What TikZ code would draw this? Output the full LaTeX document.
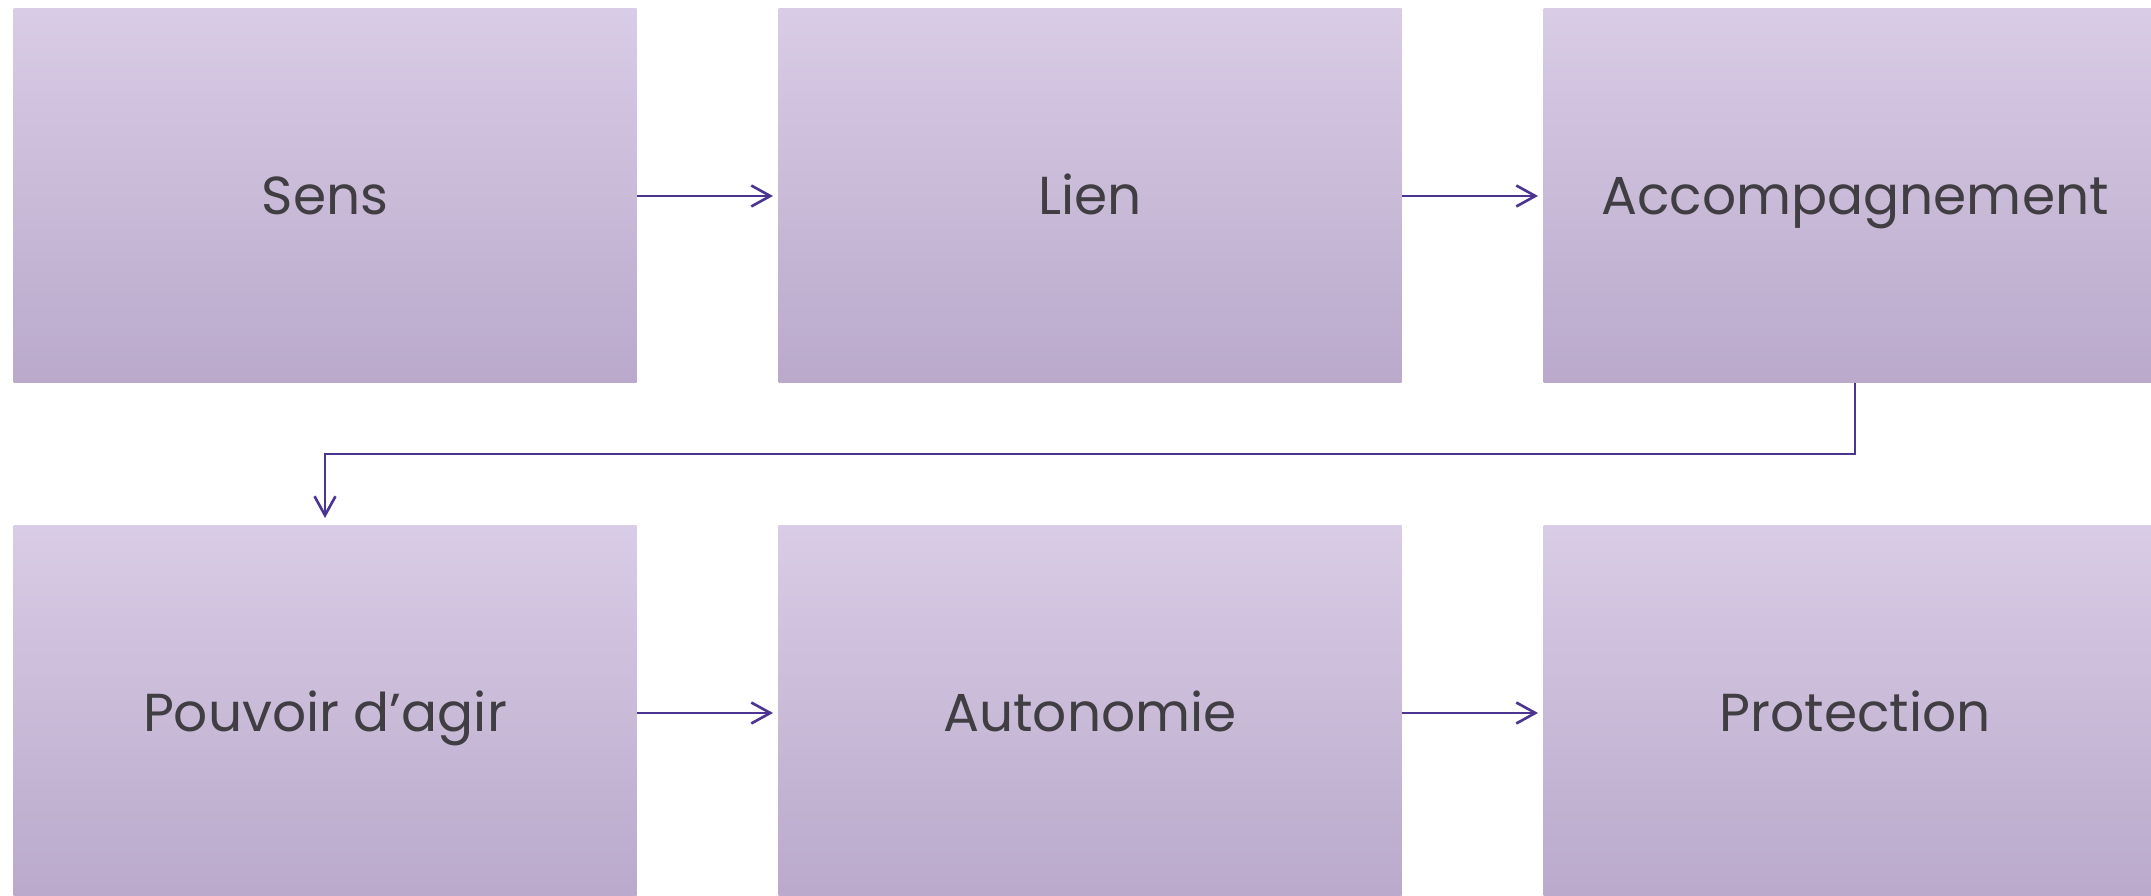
\documentclass[tikz,border=0pt]{standalone}
\usepackage{xcolor}
\usepackage{fontspec}
\setmainfont{Poppins}
\usepackage{tikz}
\usetikzlibrary{positioning,arrows.meta}

\definecolor{boxtop}{RGB}{217,204,230}
\definecolor{boxbot}{RGB}{186,169,203}
\definecolor{linkcol}{RGB}{75,53,144}
\definecolor{textcol}{RGB}{64,62,66}

\begin{document}
\begin{tikzpicture}[node distance=1.42cm]
    \useasboundingbox (0,0) rectangle (21.51,8.95);
    % Styles
    \tikzstyle{box} = [rectangle, top color=boxtop, bottom color=boxbot, minimum width=6.23cm, minimum height=3.74cm, outer sep=0pt, align=center, text=textcol, text height=0.48cm, text depth=0.1cm, font=\fontsize{15.2}{18}\selectfont]
    \tikzstyle{arrow} = [line width=0.75pt, draw=linkcol, -{Straight Barb[length=1.9mm, width=2.1mm, line width=0.75pt]}, shorten >=0.55mm]

    % Nodes
    \node[box] (sens) at (3.25,6.99) {Sens};
    \node[box, right=of sens] (lien) {Lien};
    \node[box, right=of lien] (accomp) {Accompagnement};
    \node[box] (pouvoir) at (3.25,1.82) {Pouvoir d’agir};
    \node[box, right=of pouvoir] (auto) {Autonomie};
    \node[box, right=of auto] (protec) {Protection};

    % Arrows
    \draw[arrow] (sens) -- (lien);
    \draw[arrow] (lien) -- (accomp);
    \draw[arrow, shorten >=0.8mm] (accomp.south) -- ++(0,-0.71) -| (pouvoir.north);
    \draw[arrow] (pouvoir) -- (auto);
    \draw[arrow] (auto) -- (protec);

\end{tikzpicture}
\end{document}
